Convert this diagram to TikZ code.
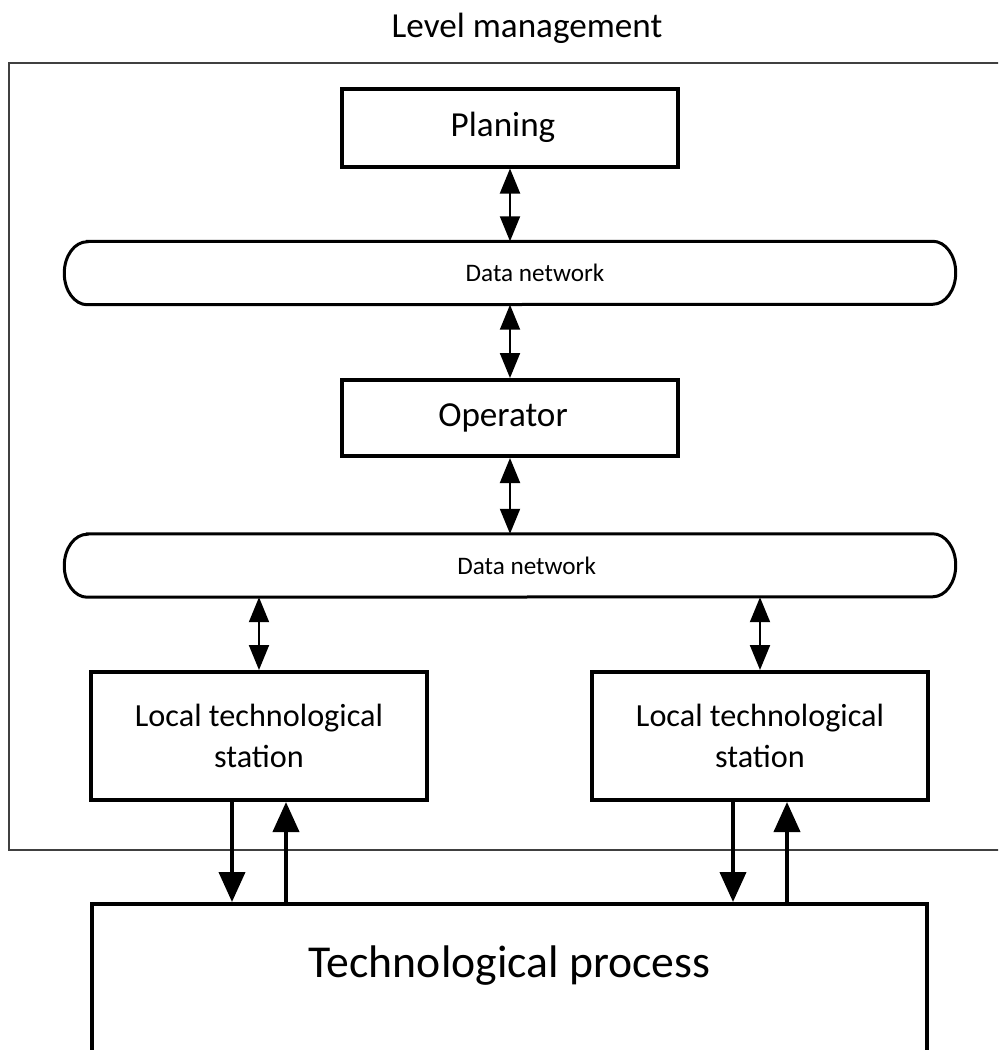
\documentclass[tikz,border=0pt]{standalone}
\usepackage{fontspec}
\setmainfont{Carlito}
\usepackage{tikz}
\usetikzlibrary{arrows.meta, positioning, calc}
\tikzset{
  blk/.style={draw, line width=1.2mm, minimum width=100.8mm, align=center, font=\fontsize{30}{36}\selectfont},
  net/.style={minimum width=253.5mm, minimum height=18.9mm, font=\fontsize{21.5}{26}\selectfont},
  dbl/.style={{Triangle[length=7.5mm,width=6mm]}-{Triangle[length=7.5mm,width=6mm]}, line width=0.6mm},
  io/.style={-{Triangle[length=9mm,width=7.8mm]}, line width=1.2mm}
}
\newcommand\netoutline[1]{% node name
  \draw [line width=0.9mm] (#1.north west) -- (#1.north east)
    arc [start angle=90, end angle=-90, x radius=6.9mm, y radius=9.45mm]
    -- (#1.south west)
    arc [start angle=270, end angle=90, x radius=6.9mm, y radius=9.45mm] -- cycle;
}

\begin{document}
\begin{tikzpicture}[x=0.3mm, y=-0.3mm]
\clip (0,0) rectangle (998,1050);

\node (title) at (527,28) {\fontsize{30}{36}\selectfont Level management};
\draw [black!75, line width=0.45mm] (1010,63) -- (9,63) -- (9,850) -- (1010,850);

\node [blk, minimum height=23.4mm] (plan) at (510,127.5) {Planing\hspace*{4.2mm}};
\node [net] (dn1) at (510,273) {\hspace*{15mm}Data network};
\node [blk, minimum height=22.8mm] (op) at (510,418) {Operator\hspace*{4.2mm}};
\node [net] (dn2) at (510,565.5) {\hspace*{10mm}Data network};
\netoutline{dn1}
\netoutline{dn2}

\node [blk, minimum height=38.4mm, font=\fontsize{27.5}{35}\selectfont] (lts1) at (259,736) {Local technological\\station};
\node [blk, minimum height=38.4mm, font=\fontsize{27.5}{35}\selectfont] (lts2) at (760,736) {Local technological\\station};
\node [blk, anchor=north, minimum width=250.5mm, inner sep=0pt, text height=21.9mm, text depth=30mm, font=\fontsize{39}{46}\selectfont] (tp) at (509.5,902) {Technological process};

\draw [dbl] (plan.south) -- (plan.south |- dn1.north);
\draw [dbl] (dn1.south -| op.north) -- (op.north);
\draw [dbl] (op.south) -- (op.south |- dn2.north);
\draw [dbl] (lts1.north |- dn2.south) -- (lts1.north);
\draw [dbl] (lts2.north |- dn2.south) -- (lts2.north);

\foreach \s in {lts1, lts2} {
  \draw [io] ([xshift=-8.1mm]\s.south) -- ([xshift=-8.1mm]\s.south |- tp.north);
  \draw [io] ([xshift=8.1mm]\s.south |- tp.north) -- ([xshift=8.1mm]\s.south);
}
\end{tikzpicture}
\end{document}
